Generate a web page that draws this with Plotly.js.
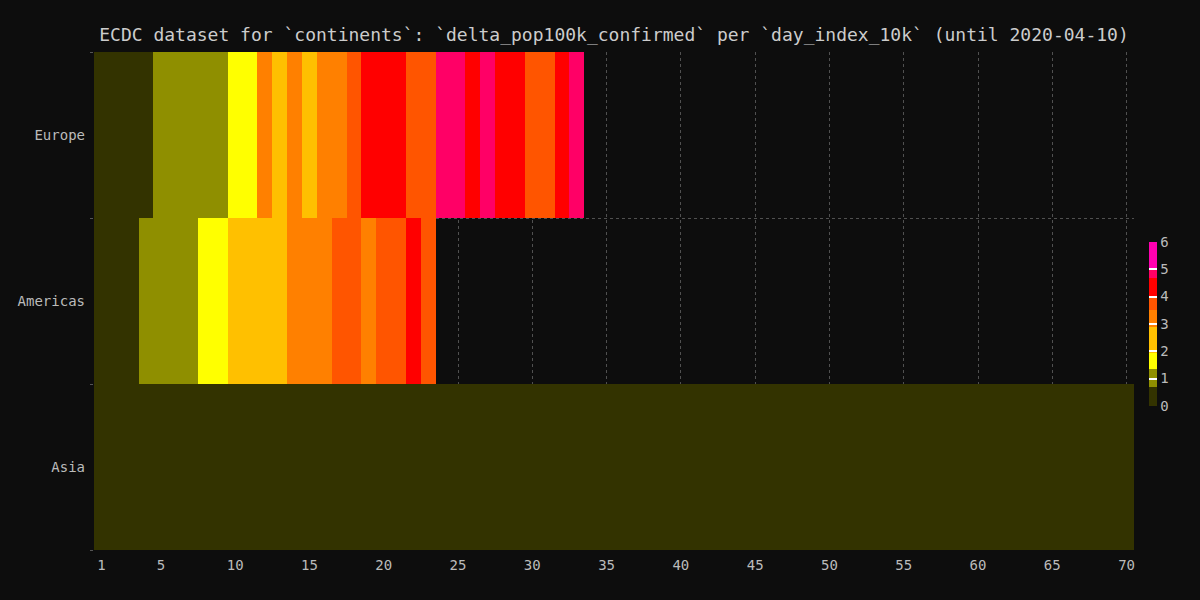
<!DOCTYPE html>
<html>
<head>
<meta charset="utf-8">
<script src="https://cdn.plot.ly/plotly-3.0.1.min.js"></script>
<style>html,body{margin:0;padding:0;background:#0d0d0d;}#chart{width:1200px;height:600px;}</style>
</head>
<body>
<div id="chart"></div>
<script>
// Days (x) and continents (y)
const days = [];
for (let d = 1; d <= 70; d++) days.push(d);
const continents = ["Asia", "Americas", "Europe"];

// delta_pop100k_confirmed per day_index_10k
const asia = [0.02,0.03,0.03,0.04,0.05,0.04,0.06,0.07,0.08,0.1,0.12,0.14,0.15,0.17,0.18,0.2,0.21,0.19,0.2,0.22,
              0.2,0.18,0.17,0.15,0.13,0.12,0.11,0.1,0.1,0.09,0.08,0.08,0.07,0.07,0.06,0.06,0.05,0.05,0.06,0.05,
              0.05,0.04,0.05,0.04,0.04,0.04,0.03,0.04,0.03,0.03,0.03,0.04,0.03,0.03,0.04,0.05,0.05,0.06,0.07,0.06,
              0.07,0.08,0.09,0.1,0.11,0.12,0.13,0.14,0.15,0.16];
const americas = [0.2,0.3,0.45,0.95,1.05,1.15,1.25,1.6,1.8,2.2,2.4,2.5,2.7,3.0,3.1,3.3,3.7,3.8,3.3,3.8,3.9,4.2,3.9];
const europe = [0.15,0.25,0.35,0.5,0.95,1.05,1.1,1.2,1.3,1.6,1.8,3.1,2.6,3.2,2.7,3.3,3.4,3.8,4.3,4.5,
                4.4,3.8,3.9,4.85,4.9,4.6,4.85,4.5,4.6,3.8,3.9,4.4,4.9];

// Stepwise colour scale (value bins)
const binEdges = [0, 0.7, 1.37, 1.95, 2.9, 3.5, 4.0, 4.7, 5.0, 6.0];
const binColors = ["#333300", "#8f8f00", "#ffff00", "#ffc000", "#ff8000", "#ff5500", "#ff0000", "#ff0066", "#ff00b0"];
const zMin = 0, zMax = 6;
const colorTicks = [0, 1, 2, 3, 4, 5, 6];
const xTicks = [1, 5, 10, 15, 20, 25, 30, 35, 40, 45, 50, 55, 60, 65, 70];

function pad(row) {
  const out = [];
  for (let i = 0; i < days.length; i++) out.push(i < row.length ? row[i] : null);
  return out;
}
const z = [pad(asia), pad(americas), pad(europe)];

const colorscale = [];
for (let i = 0; i < binColors.length; i++) {
  colorscale.push([(binEdges[i] - zMin) / (zMax - zMin), binColors[i]]);
  colorscale.push([(binEdges[i + 1] - zMin) / (zMax - zMin), binColors[i]]);
}

const mono = "DejaVu Sans Mono, monospace";
const trace = {
  type: "heatmap",
  x: days,
  y: continents,
  z: z,
  zmin: zMin,
  zmax: zMax,
  colorscale: colorscale,
  showscale: true,
  colorbar: {
    x: 1.0145, xanchor: "left", xpad: 0,
    y: 0.454, yanchor: "middle", ypad: 0,
    len: 164, lenmode: "pixels",
    thickness: 8,
    outlinewidth: 0,
    tickvals: colorTicks,
    ticks: "inside", ticklen: 8, tickcolor: "#ffffff", tickwidth: 2,
    tickfont: {family: mono, size: 14, color: "#bbbbbb"}
  }
};

const layout = {
  width: 1200, height: 600,
  paper_bgcolor: "#0d0d0d",
  plot_bgcolor: "#0d0d0d",
  margin: {l: 94, r: 66, t: 52, b: 50},
  font: {family: mono, size: 14, color: "#bbbbbb"},
  title: {
    text: "ECDC dataset for `continents`: `delta_pop100k_confirmed` per `day_index_10k` (until 2020-04-10)",
    font: {family: mono, size: 18, color: "#cccccc"},
    x: 0.5, xref: "paper", xanchor: "center",
    y: 0.942, yref: "container", yanchor: "middle"
  },
  xaxis: {
    tickvals: xTicks,
    showgrid: true, gridcolor: "#505050", griddash: "3px,3px", gridwidth: 1,
    zeroline: false, showline: false, ticks: "",
    ticklabelstandoff: 5,
    tickfont: {family: mono, size: 14, color: "#bbbbbb"}
  },
  yaxis: {
    type: "category",
    tickson: "boundaries",
    ticks: "outside", ticklen: 3, tickcolor: "#555555",
    ticklabelstandoff: 8,
    showgrid: true, gridcolor: "#505050", griddash: "3px,3px", gridwidth: 1,
    zeroline: false, showline: false,
    tickfont: {family: mono, size: 14, color: "#bbbbbb"}
  }
};

Plotly.newPlot("chart", [trace], layout, {displayModeBar: false, staticPlot: true});
</script>
</body>
</html>
